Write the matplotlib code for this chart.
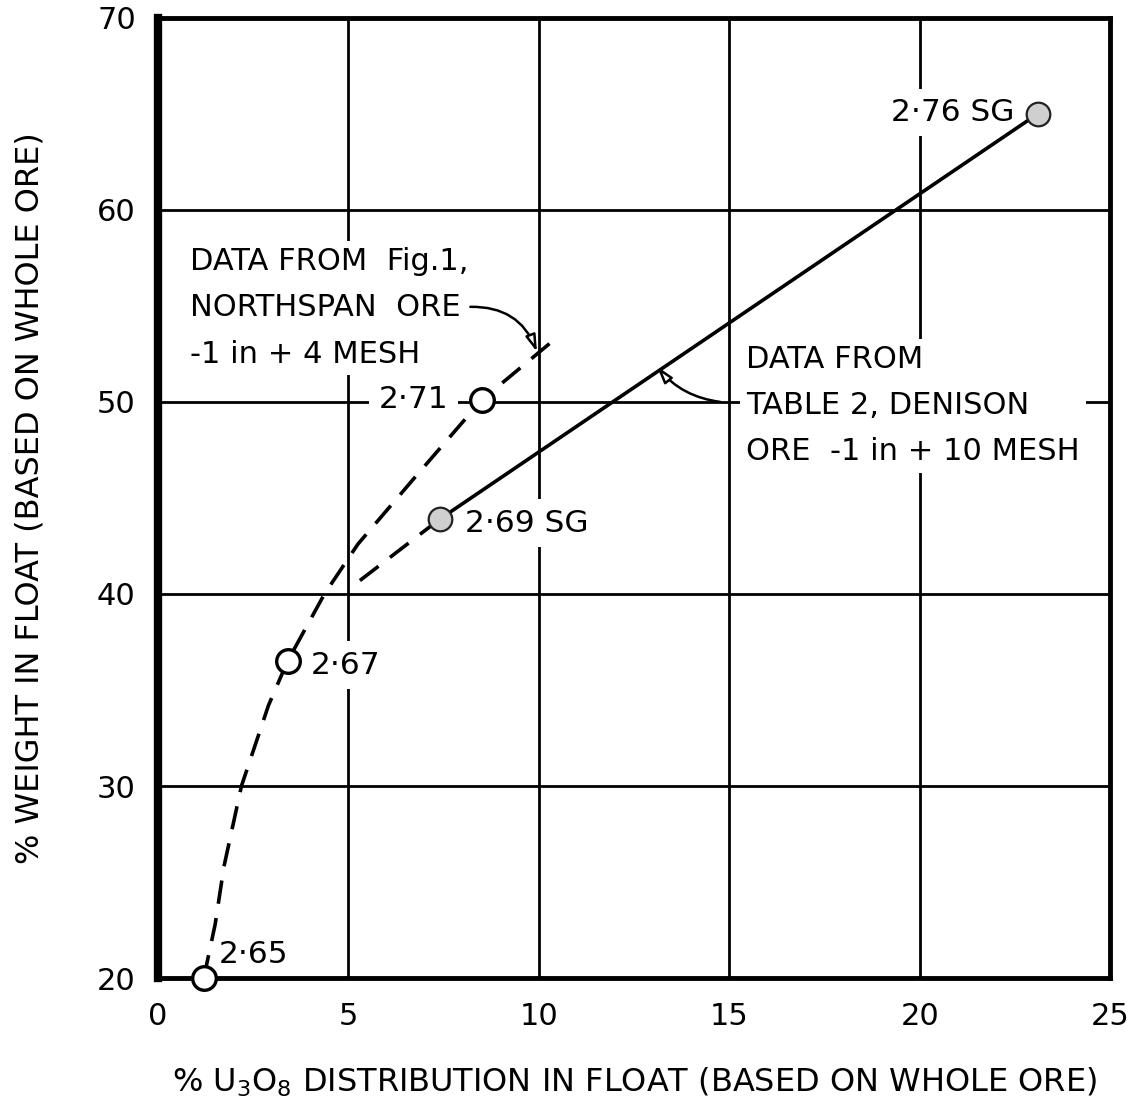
import matplotlib
matplotlib.use("Agg")
import matplotlib.pyplot as plt

# Northspan ore (Fig. 1), -1 in + 4 mesh : float at each SG
ns_sg = ["2·65", "2·67", "2·71"]
ns_u3o8 = [1.2, 3.4, 8.5]
ns_weight = [20.0, 36.5, 50.1]
# the hand drawn dashed curve
ns_curve_x = [1.2, 1.5, 1.73, 2.19, 2.9, 3.4, 4.37, 5.25, 6.8, 8.5, 10.5]
ns_curve_y = [20.0, 22.8, 25.8, 30.0, 34.2, 36.5, 40.0, 42.6, 46.2, 50.1, 53.4]

# Denison ore (Table 2), -1 in + 10 mesh
dn_sg = ["2·69 SG", "2·76 SG"]
dn_u3o8 = [7.4, 23.1]
dn_weight = [43.9, 65.0]
# dashed extension below 2.69
dn_ext_x = [5.3, 7.4]
dn_ext_y = [40.7, 43.9]

xticks = [0, 5, 10, 15, 20, 25]
yticks = [20, 30, 40, 50, 60, 70]

plt.rcParams['font.family'] = ['DejaVu Sans']

fig = plt.figure(figsize=(11.41, 11.09), dpi=100)
ax = fig.add_axes([0.1385, 0.118, 0.8345, 0.866])

ax.set_xlim(xticks[0], xticks[-1])
ax.set_ylim(yticks[0], yticks[-1])
ax.set_xticks(xticks)
ax.set_yticks(yticks)
ax.grid(True, color='black', lw=2.0)
ax.tick_params(length=0, labelsize=22)
ax.tick_params(axis='x', pad=17)
ax.tick_params(axis='y', pad=16)
for s in ax.spines.values():
    s.set_linewidth(3.5)
    s.set_zorder(4.5)  # keep the frame above the white text boxes
ax.spines['left'].set_linewidth(6)

white = dict(boxstyle='square,pad=0.3', fc='white', ec='none')

# northspan: dashed curve + open circles
ax.plot(ns_curve_x, ns_curve_y, color='black', lw=2.6, dashes=(6.5, 4), zorder=5)
ax.plot(ns_u3o8, ns_weight, 'o', ms=17, mfc='white', mec='black', mew=2.4,
        zorder=6, clip_on=False)

# denison: solid line, dashed extension, stippled circles
ax.plot(dn_u3o8, dn_weight, color='black', lw=2.6, zorder=5)
ax.plot(dn_ext_x, dn_ext_y, color='black', lw=2.6, dashes=(6.5, 4), zorder=5)
ax.plot(dn_u3o8, dn_weight, 'o', ms=17, mfc='#cfcfcf', mec='#222222', mew=1.6,
        zorder=6, clip_on=False)

# SG labels, offset in points from each point
ns_off = [(11, 17, 'left'), (17, -3, 'left'), (-24, 0, 'right')]
for lab, x, y, (dx, dy, ha) in zip(ns_sg, ns_u3o8, ns_weight, ns_off):
    ax.annotate(lab, (x, y), xytext=(dx, dy), textcoords='offset points',
                ha=ha, va='center', fontsize=22.5, bbox=white, zorder=4)
dn_off = [(18, -3, 'left'), (-17, 1, 'right')]
for lab, x, y, (dx, dy, ha) in zip(dn_sg, dn_u3o8, dn_weight, dn_off):
    ax.annotate(lab, (x, y), xytext=(dx, dy), textcoords='offset points',
                ha=ha, va='center', fontsize=22.5, bbox=white, zorder=4)

# notes
note_box = dict(boxstyle='square,pad=0.2', fc='white', ec='none')
ax.text(0.85, 54.9, "DATA FROM  Fig.1,\nNORTHSPAN  ORE\n-1 in + 4 MESH",
        ha='left', va='center', fontsize=22, linespacing=1.75,
        bbox=note_box, zorder=4)
ax.text(15.45, 49.8, "DATA FROM\nTABLE 2, DENISON\nORE  -1 in + 10 MESH",
        ha='left', va='center', fontsize=22, linespacing=1.75,
        bbox=note_box, zorder=4)

arr = dict(arrowstyle='-|>,head_length=1.0,head_width=0.3', fc='white',
           ec='black', lw=1.8, shrinkA=0, shrinkB=0)
ax.annotate('', xy=(9.95, 52.6), xytext=(8.2, 54.95),
            arrowprops=dict(arr, connectionstyle='arc3,rad=-0.35'), zorder=5)
ax.annotate('', xy=(13.1, 51.85), xytext=(14.76, 50.0),
            arrowprops=dict(arr, connectionstyle='arc3,rad=-0.2'), zorder=5)

ax.set_xlabel(r"% U$_3$O$_8$ DISTRIBUTION IN FLOAT (BASED ON WHOLE ORE)", fontsize=23)
ax.set_ylabel("% WEIGHT IN FLOAT (BASED ON WHOLE ORE)", fontsize=23)
ax.xaxis.set_label_coords(0.5, -0.108)
ax.xaxis.label.set_va('center')
ax.yaxis.set_label_coords(-0.134, 0.5)
ax.yaxis.label.set_va('center')

fig.savefig("out.png", dpi=100)
